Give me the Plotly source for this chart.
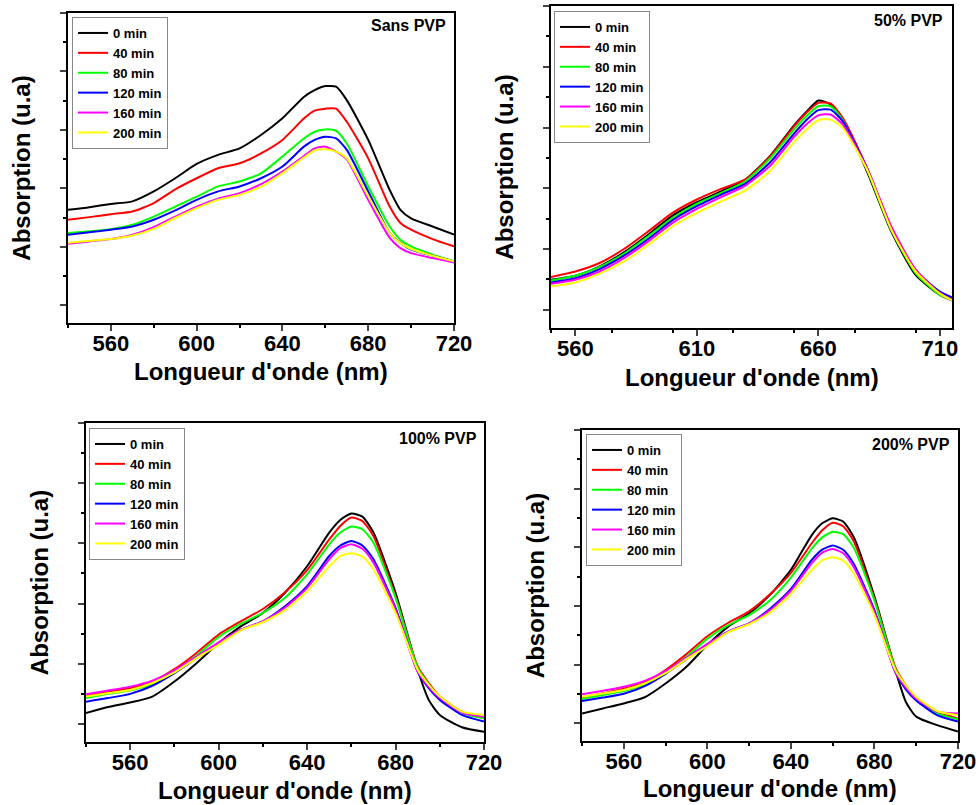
import plotly.graph_objects as go

W, H = 979, 805

# ---------------- data ----------------
WL_A = [540, 550, 560, 570, 580, 590, 600, 610, 620, 630, 640, 650, 655, 660, 665, 670, 680, 690, 695, 700, 710, 720]
WL_B = [550, 560, 570, 580, 590, 600, 610, 620, 630, 640, 650, 655, 660, 665, 670, 680, 690, 700, 710, 715]

TIMES = ["0 min", "40 min", "80 min", "120 min", "160 min", "200 min"]
COLORS = ["#000000", "#FF0000", "#00FF00", "#0000FF", "#FF00FF", "#FFFF00"]
PANEL_LABELS = ["Sans PVP", "50% PVP", "100% PVP", "200% PVP"]
X_TITLE = "Longueur d'onde (nm)"
Y_TITLE = "Absorption (u.a)"

# Sans PVP (x = WL_A)
SANS_0 = [.327, .336, .347, .356, .390, .435, .484, .515, .537, .583, .640, .713, .736, .750, .748, .702, .566, .395, .327, .298, .270, .242]
SANS_40 = [.293, .302, .312, .321, .350, .397, .435, .469, .486, .520, .566, .639, .666, .673, .673, .628, .503, .338, .282, .259, .227, .202]
SANS_80 = [.248, .254, .261, .276, .304, .338, .372, .407, .424, .452, .509, .571, .594, .602, .597, .554, .407, .270, .225, .202, .174, .151]
SANS_120 = [.242, .250, .259, .270, .293, .325, .361, .390, .407, .435, .475, .543, .566, .577, .571, .532, .390, .248, .214, .191, .170, .151]
SANS_160 = [.211, .219, .227, .242, .268, .304, .338, .365, .384, .415, .458, .511, .537, .543, .526, .500, .361, .231, .196, .179, .162, .147]
SANS_200 = [.214, .221, .227, .239, .262, .299, .333, .361, .378, .406, .452, .506, .530, .534, .526, .503, .373, .248, .213, .193, .170, .151]

# 50% PVP (x = WL_B)
P50_0 = [.099, .112, .143, .189, .247, .310, .354, .390, .429, .505, .607, .651, .689, .676, .624, .456, .258, .115, .049, .031]
P50_40 = [.108, .126, .154, .200, .258, .319, .363, .398, .429, .503, .604, .648, .681, .679, .632, .467, .269, .132, .055, .035]
P50_80 = [.096, .112, .141, .185, .242, .302, .349, .385, .423, .497, .593, .637, .670, .670, .624, .462, .264, .121, .049, .033]
P50_120 = [.090, .104, .134, .178, .233, .295, .341, .379, .415, .484, .580, .624, .657, .659, .621, .467, .269, .130, .060, .041]
P50_160 = [.086, .099, .126, .170, .225, .286, .332, .371, .409, .473, .569, .610, .640, .643, .610, .467, .275, .132, .055, .033]
P50_200 = [.077, .090, .119, .159, .214, .275, .319, .357, .393, .456, .552, .593, .624, .626, .599, .462, .264, .126, .053, .031]

# 100% PVP (x = WL_A)
P100_0 = [.036, .056, .071, .091, .141, .202, .269, .324, .369, .436, .524, .636, .678, .699, .689, .636, .436, .180, .080, .030, -.011, -.026]
P100_40 = [.093, .108, .119, .141, .182, .236, .297, .341, .382, .438, .511, .613, .658, .686, .674, .624, .424, .191, .136, .091, .041, .019]
P100_80 = [.086, .100, .111, .133, .174, .227, .289, .333, .369, .419, .497, .597, .636, .656, .647, .602, .419, .186, .131, .086, .036, .019]
P100_120 = [.074, .086, .100, .127, .169, .219, .269, .313, .341, .391, .458, .558, .593, .608, .593, .547, .386, .174, .119, .080, .030, .008]
P100_160 = [.099, .111, .124, .144, .178, .224, .271, .313, .341, .386, .452, .547, .584, .597, .582, .536, .380, .174, .124, .086, .038, .024]
P100_200 = [.091, .102, .113, .136, .171, .219, .263, .311, .338, .378, .441, .524, .558, .567, .556, .513, .369, .180, .130, .091, .041, .030]

# 200% PVP (x = WL_A)
P200_0 = [.034, .051, .068, .089, .136, .193, .267, .330, .375, .438, .523, .642, .682, .699, .688, .636, .432, .182, .074, .023, -.006, -.028]
P200_40 = [.088, .103, .118, .140, .182, .236, .297, .343, .382, .440, .513, .614, .658, .684, .672, .622, .424, .191, .130, .086, .038, .017]
P200_80 = [.083, .097, .110, .132, .174, .227, .289, .335, .369, .420, .497, .596, .634, .653, .645, .600, .419, .186, .126, .082, .034, .014]
P200_120 = [.076, .088, .101, .127, .169, .219, .269, .313, .341, .391, .458, .557, .592, .606, .592, .545, .386, .174, .116, .078, .028, .006]
P200_160 = [.099, .111, .125, .145, .178, .224, .271, .313, .341, .386, .452, .546, .582, .594, .580, .534, .380, .176, .123, .084, .040, .034]
P200_200 = [.091, .102, .114, .136, .171, .219, .263, .311, .338, .378, .441, .523, .556, .566, .555, .512, .369, .182, .130, .090, .042, .028]

PANEL_SERIES = [
    (WL_A, [SANS_0, SANS_40, SANS_80, SANS_120, SANS_160, SANS_200]),
    (WL_B, [P50_0, P50_40, P50_80, P50_120, P50_160, P50_200]),
    (WL_A, [P100_0, P100_40, P100_80, P100_120, P100_160, P100_200]),
    (WL_A, [P200_0, P200_40, P200_80, P200_120, P200_160, P200_200]),
]

# ---------------- layout (pixel geometry) ----------------
FONT = "Arial, 'Liberation Sans', sans-serif"
BOXES = [(68, 454, 13, 323), (551, 952, 6, 328), (86, 484, 423, 742), (582, 958, 430, 741)]
XRANGES = [(540, 720), (550, 715), (540, 720), (540, 720)]
XDTICK = [40, 50, 40, 40]
LEGEND_POS = [(72, 17), (554, 11), (89, 428), (586, 434)]
LABEL_POS = [(448, 26), (945, 21), (479, 438), (952, 444)]
XTITLE_Y = [371, 378, 790, 788]   # centre of x-axis title, px from top

fig = go.Figure()
layout = dict(
    width=W, height=H, margin=dict(l=0, r=0, t=0, b=0, autoexpand=False),
    paper_bgcolor="white", plot_bgcolor="white",
    font=dict(family=FONT, color="black"),
    annotations=[],
)

for i, ((x0, x1, y0, y1), (wl, series)) in enumerate(zip(BOXES, PANEL_SERIES)):
    n = i + 1
    sfx = "" if n == 1 else str(n)
    leg = "legend" if n == 1 else f"legend{n}"
    for name, color, ys in zip(TIMES, COLORS, series):
        fig.add_trace(go.Scatter(
            x=wl, y=ys, mode="lines", name=name,
            line=dict(color=color, width=2, shape="spline", smoothing=0.6),
            xaxis=f"x{sfx}", yaxis=f"y{sfx}", legend=leg,
        ))
    xr = XRANGES[i]
    layout[f"xaxis{sfx}"] = dict(
        domain=[x0 / W, x1 / W], anchor=f"y{sfx}", range=list(xr),
        tick0=560, dtick=XDTICK[i], ticks="outside", ticklen=6, tickwidth=1.5,
        ticklabelstandoff=-6,
        minor=dict(dtick=XDTICK[i] / 2, ticks="outside", ticklen=3, tickwidth=1.5, tickcolor="black"),
        showline=True, linewidth=2, linecolor="black", mirror=True,
        showgrid=False, zeroline=False, automargin=False,
        tickfont=dict(family=FONT, size=22, weight="bold", color="black"),
    )
    layout[f"yaxis{sfx}"] = dict(
        domain=[1 - y1 / H, 1 - y0 / H], anchor=f"x{sfx}", range=[-0.06, 1.0],
        tick0=0, dtick=0.2, ticks="outside", ticklen=6, tickwidth=1.5,
        minor=dict(dtick=0.1, ticks="outside", ticklen=3, tickwidth=1.5, tickcolor="black"),
        showticklabels=False,
        showline=True, linewidth=2, linecolor="black", mirror=True,
        showgrid=False, zeroline=False, automargin=False,
        title=dict(text=Y_TITLE, standoff=23,
                   font=dict(family=FONT, size=24, weight="bold", color="black")),
    )
    lx, ly = LEGEND_POS[i]
    layout[leg] = dict(
        x=lx / W, y=1 - ly / H, xanchor="left", yanchor="top",
        bgcolor="white", bordercolor="#888888", borderwidth=1,
        font=dict(family=FONT, size=13, weight="bold", color="black"),
        tracegroupgap=0,
    )
    ax, ay = LABEL_POS[i]
    layout["annotations"].append(dict(
        x=ax / W, y=1 - ay / H, xref="paper", yref="paper",
        xanchor="right", yanchor="middle", showarrow=False,
        text=PANEL_LABELS[i],
        font=dict(family=FONT, size=16, weight="bold", color="black"),
    ))
    # x-axis title
    layout["annotations"].append(dict(
        x=(x0 + x1) / 2 / W, y=1 - XTITLE_Y[i] / H, xref="paper", yref="paper",
        xanchor="center", yanchor="middle", showarrow=False,
        text=X_TITLE,
        font=dict(family=FONT, size=24, weight="bold", color="black"),
    ))

fig.update_layout(**layout)
fig.write_html("out.html")
